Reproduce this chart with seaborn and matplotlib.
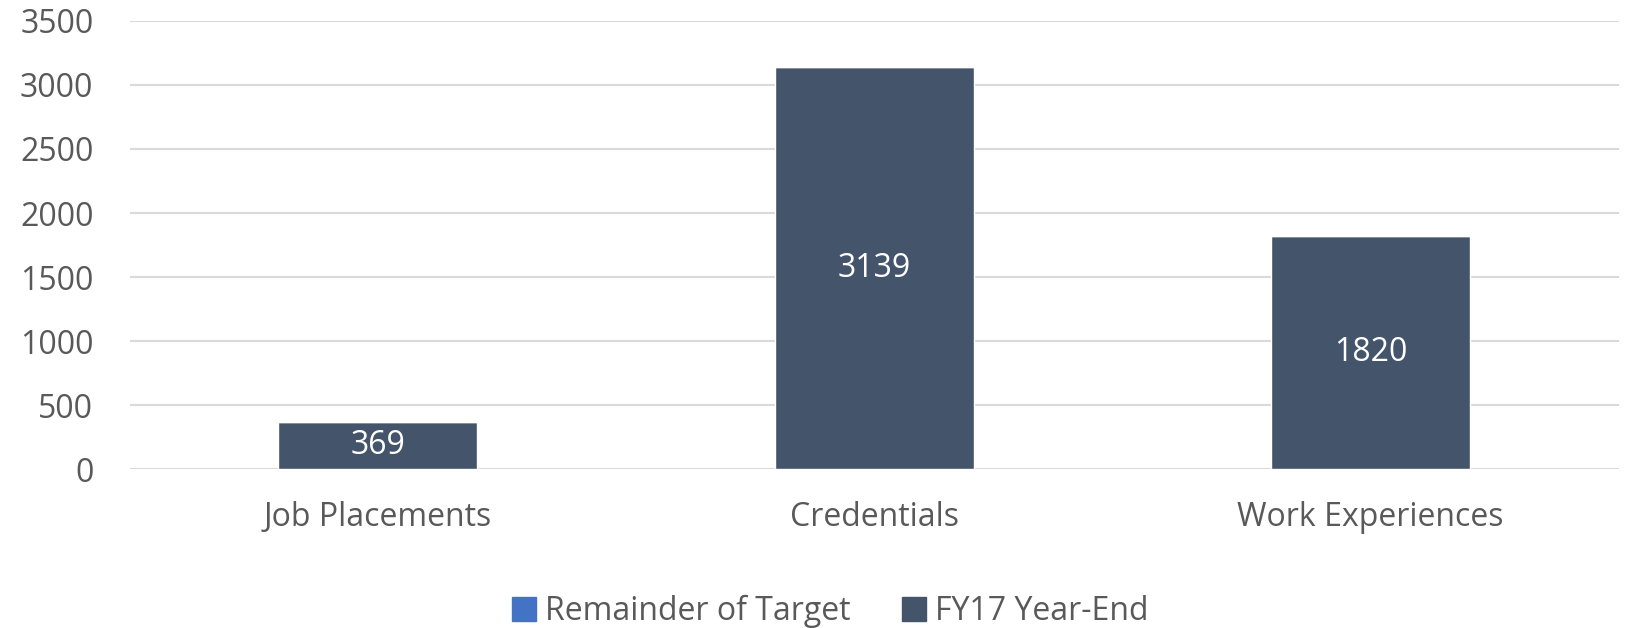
import matplotlib
matplotlib.use("Agg")
import matplotlib.pyplot as plt
import matplotlib.patches as mpatches
import pandas as pd
import seaborn as sns

categories = ["Job Placements", "Credentials", "Work Experiences"]
year_end = [369, 3139, 1820]
remainder = [0, 0, 0]  # no visible remainder segment in the chart
y_ticks = [0, 500, 1000, 1500, 2000, 2500, 3000, 3500]

dark = "#44546A"
blue = "#4472C4"
grey_text = "#595959"
grid = "#D9D9D9"
fs = 23

sns.set_theme(style="white")
plt.rcParams["font.family"] = ["Open Sans", "DejaVu Sans"]

df = pd.DataFrame({"category": categories, "year_end": year_end, "remainder": remainder})

fig = plt.figure(figsize=(16.25, 6.28), dpi=100)
ax = fig.add_axes([0.0797, 0.2524, 0.9166, 0.7146])

sns.barplot(data=df, x="category", y="year_end", color=dark, width=0.4,
            saturation=1, ax=ax, zorder=3)
# remainder stacked on top of the year-end bars
ax.bar(range(len(categories)), df["remainder"], bottom=df["year_end"],
       width=0.4, color=blue, zorder=3)

for i, v in enumerate(year_end):
    ax.text(i, v / 2, f"{v}", ha="center", va="center", color="white",
            fontsize=fs, zorder=4)

ax.set_ylim(0, 3500)
ax.set_yticks(y_ticks)
ax.set_xlim(-0.5, 2.5)
ax.yaxis.grid(True, color=grid, linewidth=1.5, zorder=0)
ax.set_axisbelow(True)
for s in ax.spines.values():
    s.set_visible(False)
ax.tick_params(axis="y", length=0, pad=26, labelsize=fs, labelcolor=grey_text)
ax.tick_params(axis="x", length=0, pad=23, labelsize=fs, labelcolor=grey_text)
ax.set_xlabel("")
ax.set_ylabel("")

handles = [mpatches.Patch(color=blue, label="Remainder of Target"),
           mpatches.Patch(color=dark, label="FY17 Year-End")]
leg = fig.legend(handles=handles, loc="center", bbox_to_anchor=(0.511, 0.026),
                 ncol=2, frameon=False, fontsize=fs, handlelength=0.75,
                 handleheight=0.75, handletextpad=0.3, columnspacing=1.6)
for t in leg.get_texts():
    t.set_color(grey_text)

fig.savefig("out.png", dpi=100)
